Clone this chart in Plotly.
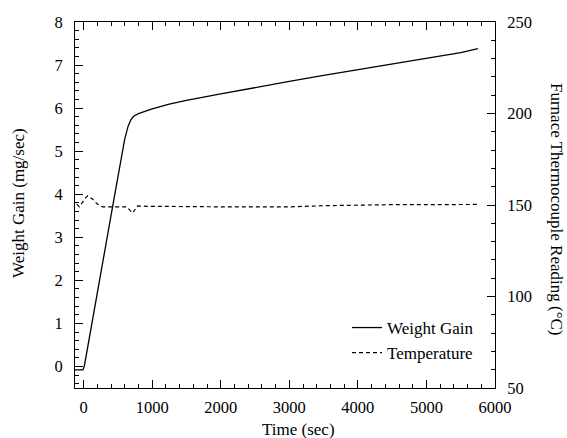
import plotly.graph_objects as go

# Weight gain data
time_w = [-125, -10, 10, 150, 300, 450, 600, 650, 690, 730, 800, 900, 1000, 1250, 1500,
          2000, 2500, 3000, 3500, 4000, 4500, 5000, 5500, 5750]
weight = [-0.08, -0.08, 0.0, 1.28, 2.6, 3.95, 5.28, 5.58, 5.73, 5.81, 5.87, 5.93, 5.98, 6.09, 6.18,
          6.33, 6.48, 6.62, 6.76, 6.89, 7.03, 7.16, 7.29, 7.38]

# Furnace thermocouple temperature data
time_t = [-100, -60, 20, 60, 130, 200, 277, 450, 628, 715, 788, 920, 1500, 2000,
          2500, 3000, 3500, 4000, 4500, 5000, 5500, 5750]
temp = [150.5, 149, 153.5, 155, 153.3, 150.5, 149, 149, 149, 145.6, 149.5, 149.3, 149, 149,
        149, 149, 149.6, 150, 150.2, 150.2, 150.3, 150.3]

FONT = "Liberation Serif"

fig = go.Figure()
fig.add_trace(go.Scatter(x=time_w, y=weight, mode="lines", name="Weight Gain",
                         line=dict(color="black", width=1.3)))
fig.add_trace(go.Scatter(x=time_t, y=temp, mode="lines", name="Temperature", yaxis="y2",
                         line=dict(color="black", width=1.2, dash="4px,3px")))

fig.update_layout(
    template="none",
    width=567, height=438,
    margin=dict(l=75, r=72, t=22, b=50),
    paper_bgcolor="white", plot_bgcolor="white",
    font=dict(family=FONT, size=16, color="black"),
    showlegend=True,
    legend=dict(x=(347 - 75) / 420, y=(388 - 310) / 366, xanchor="left", yanchor="top",
                bgcolor="rgba(0,0,0,0)", font=dict(size=17, family=FONT),
                tracegroupgap=0, itemwidth=30),
    xaxis=dict(range=[-125, 6000], tick0=0, dtick=1000, ticks="inside", ticklen=8,
               tickwidth=1, tickcolor="black", showline=True, linecolor="black",
               linewidth=1, mirror="ticks", showgrid=False, zeroline=False,
               ticklabelstandoff=4,
               minor=dict(dtick=200, ticks="inside", ticklen=4, tickcolor="black", showgrid=False),
               tickfont=dict(size=16.5, family=FONT)),
    yaxis=dict(range=[-0.5, 8], tick0=0, dtick=1, ticks="inside", ticklen=8,
               tickwidth=1, tickcolor="black", showline=True, linecolor="black",
               linewidth=1, showgrid=False, zeroline=False, ticklabelstandoff=8,
               minor=dict(dtick=0.2, ticks="inside", ticklen=4, tickcolor="black", showgrid=False),
               tickfont=dict(size=16.5, family=FONT)),
    yaxis2=dict(range=[50, 250], tick0=50, dtick=50, overlaying="y", side="right",
                ticks="inside", ticklen=8, tickwidth=1, tickcolor="black",
                showline=True, linecolor="black", linewidth=1, showgrid=False, zeroline=False,
                ticklabelstandoff=8,
                minor=dict(dtick=10, ticks="inside", ticklen=4, tickcolor="black", showgrid=False),
                tickfont=dict(size=16.5, family=FONT)),
    annotations=[
        dict(text="Time (sec)", xref="paper", yref="paper", x=(298 - 75) / 420,
             y=-(430 - 388) / 366, xanchor="center", yanchor="middle", showarrow=False,
             font=dict(size=17, family=FONT)),
        dict(text="Weight Gain (mg/sec)", xref="paper", yref="paper", x=(18 - 75) / 420,
             y=(388 - 203) / 366, xanchor="center", yanchor="middle", textangle=-90,
             showarrow=False, font=dict(size=17, family=FONT)),
        dict(text="Furnace Thermocouple Reading (°C)", xref="paper", yref="paper",
             x=(557 - 75) / 420, y=(388 - 209) / 366, xanchor="center", yanchor="middle",
             textangle=90, showarrow=False, font=dict(size=17, family=FONT)),
    ],
)

fig.write_html("out.html")
